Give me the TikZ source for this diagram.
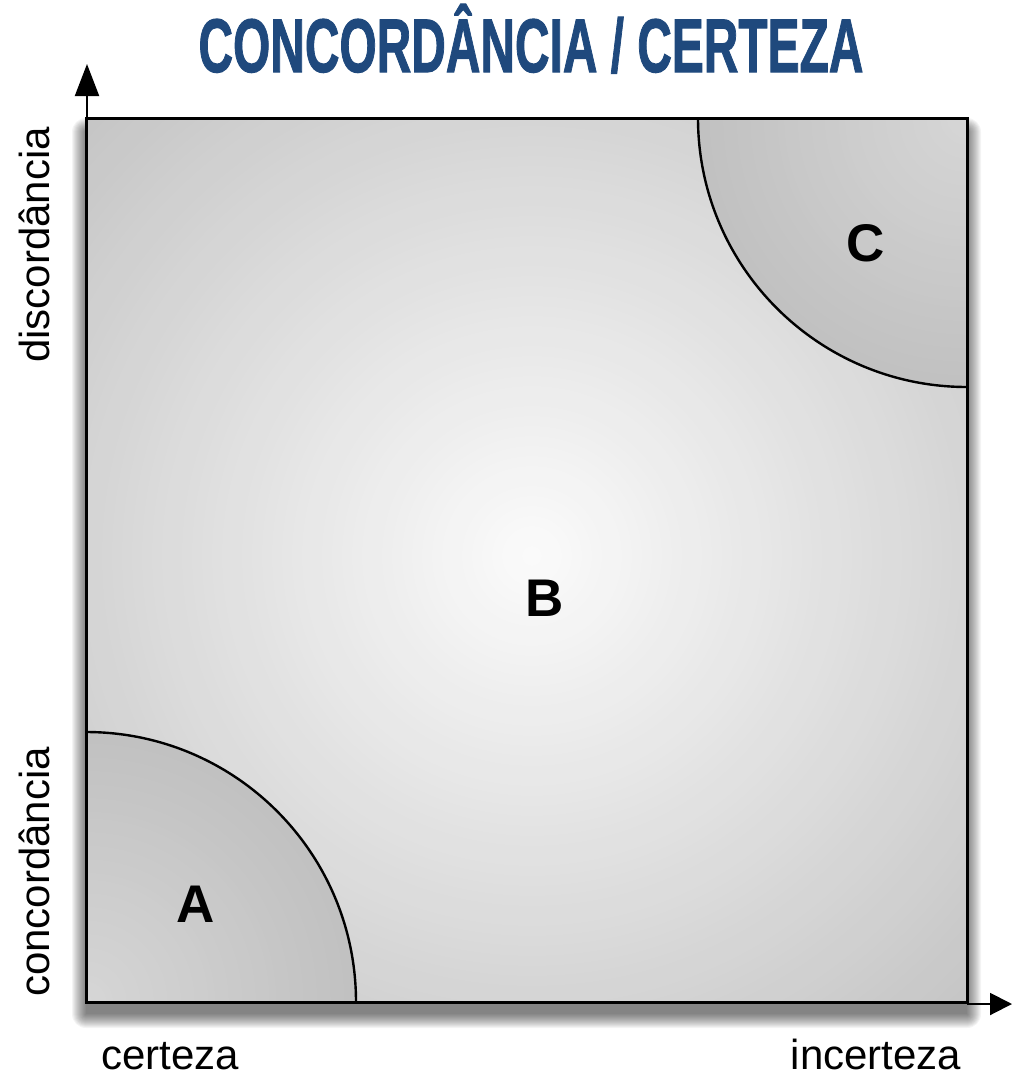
\documentclass[tikz,border=0pt]{standalone}
\usepackage{fontspec}
\setmainfont{Liberation Sans}
\newfontfamily\titlefont[FakeBold=1.5]{Liberation Sans}
\usetikzlibrary{arrows.meta}
\definecolor{titleblue}{RGB}{31,73,125}
\begin{document}
\begin{tikzpicture}[x=1pt,y=-1pt,
  axislabel/.style={font=\fontsize{42}{42}\selectfont, inner sep=0pt, anchor=base},
  regionlabel/.style={font=\bfseries\fontsize{53}{53}\selectfont, inner sep=0pt},
  axisline/.style={line width=2pt},
  boxline/.style={line width=3pt},
  arcline/.style={line width=2.4pt}]
\useasboundingbox (0,0) rectangle (1012,1077);
\coordinate (TL) at (86,118);
\coordinate (TR) at (967,118);
\coordinate (BL) at (86,1002);
\coordinate (BR) at (967,1002);
\coordinate (G) at (532,556);
% shadow
\foreach \s in {0,...,14}{
  \fill[black, opacity=0.045, rounded corners=\s pt] (86-\s,132-\s) rectangle (967+\s,1014+\s);
}
% background radial shading
\begin{scope}
\clip (TL) rectangle (BR);
\foreach \i in {0,...,64}{
  \pgfmathsetmacro\myr{640*(1-\i/64)}
  \pgfmathsetmacro\myg{0.77+0.215*\i/64}
  \definecolor{shd}{gray}{\myg}
  \fill[shd] (G) circle[radius=\myr pt];
}
\end{scope}
% region A
\begin{scope}
\clip (BL) -- (86,732) arc[start angle=90, end angle=0, radius=270pt] -- cycle;
\foreach \i in {0,...,40}{
  \pgfmathsetmacro\myr{272*(1-\i/40)}
  \pgfmathsetmacro\myg{0.755+0.085*\i/40}
  \definecolor{shd}{gray}{\myg}
  \fill[shd] (BL) circle[radius=\myr pt];
}
\end{scope}
% region C
\begin{scope}
\clip (TR) -- (698,118) arc[start angle=180, end angle=270, radius=269pt] -- cycle;
\foreach \i in {0,...,40}{
  \pgfmathsetmacro\myr{271*(1-\i/40)}
  \pgfmathsetmacro\myg{0.755+0.085*\i/40}
  \definecolor{shd}{gray}{\myg}
  \fill[shd] (TR) circle[radius=\myr pt];
}
\end{scope}
\draw[arcline] (86,732) arc[start angle=90, end angle=0, radius=270pt];
\draw[arcline] (698,118) arc[start angle=180, end angle=270, radius=269pt];
% box
\draw[boxline] (TL) rectangle (BR);
% axes
\coordinate (ytip) at (87,64);
\coordinate (xstart) at (967,1004);
\coordinate (xtip) at (1012,1004);
\draw[axisline, -{Triangle[length=32pt,width=24pt]}] (87,118) -- (ytip);
\draw[axisline, -{Triangle[length=22pt,width=22pt]}] (xstart) -- (xtip);
% labels
\node[axislabel, rotate=90] (disc) at (49,245) {discordância};
\node[axislabel, rotate=90] (conc) at (49,872) {concordância};
\node[axislabel] (cert) at (170,1069) {certeza};
\node[axislabel] (incert) at (876,1069) {incerteza};
\node[regionlabel] (A) at (196,904) {A};
\node[regionlabel] (B) at (545,598) {B};
\node[regionlabel] (C) at (866,243) {C};
% title
\node[text=titleblue, anchor=base, inner sep=0pt] (title) at (531,72)
  {\scalebox{0.63}[1]{\titlefont\bfseries\fontsize{76}{76}\selectfont CONCORDÂNCIA / CERTEZA}};
\end{tikzpicture}
\end{document}
